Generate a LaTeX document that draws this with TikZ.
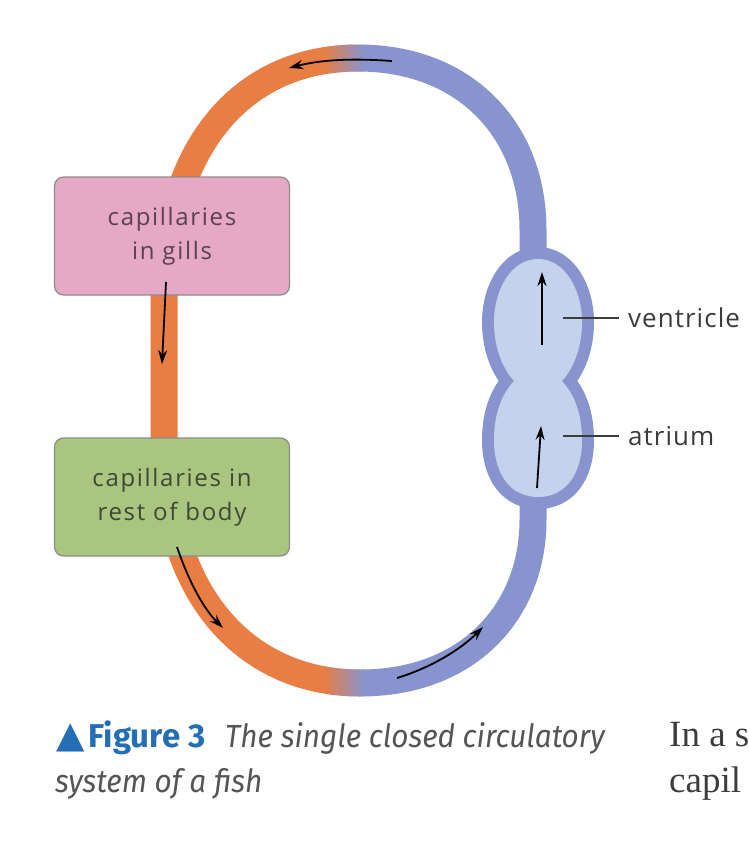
\documentclass[tikz,border=0pt]{standalone}
\usepackage{fontspec}
\setmainfont{Open Sans}
\newfontfamily\boxfont{Open Sans}[LetterSpace=7]
\newfontfamily\tagfont{Open Sans}[LetterSpace=4]
\newfontfamily\capfont{Fira Sans}[FakeStretch=0.93]
\newfontfamily\figfont{Fira Sans}
\newfontfamily\symfont{DejaVu Sans}
\newfontfamily\pagefont{Liberation Serif}
\usetikzlibrary{arrows.meta}

\definecolor{bandorange}{RGB}{233,126,69}
\definecolor{bandblue}{RGB}{135,148,206}
\definecolor{heartfill}{RGB}{196,210,236}
\definecolor{gillpink}{RGB}{229,168,197}
\definecolor{bodygreen}{RGB}{169,197,127}
\definecolor{boxedge}{RGB}{140,140,140}
\definecolor{labelgray}{RGB}{60,60,60}
\definecolor{capgray}{RGB}{85,85,85}
\definecolor{capblue}{RGB}{36,110,182}

\tikzset{
  band/.style={line width=27pt, line join=round},
  box/.style={draw=boxedge, line width=1.2pt, rounded corners=9pt,
    minimum width=235pt, minimum height=118pt, align=center,
    font=\boxfont\fontsize{24}{34}\selectfont},
  flow/.style={line width=1.8pt, -{Stealth[length=14pt,width=9pt]}},
  tag/.style={text=labelgray, anchor=west, inner sep=0pt,
    font=\tagfont\fontsize{26}{30}\selectfont},
}

% centre line of the vessel loop
\def\looppath{(358,58) .. controls (240,58) and (164,150) .. (164,300)
  -- (164,440) .. controls (164,600) and (250,683) .. (360,683)
  .. controls (470,683) and (533,610) .. (533,520)
  -- (533,230) .. controls (533,130) and (465,58) .. (358,58) -- cycle}

% outline of the heart (inner edge of its wall)
\def\heartpath{(538,259) .. controls (565,259) and (582,290) .. (582,322)
  .. controls (582,350) and (572,370) .. (562,381)
  .. controls (575,395) and (582,415) .. (582,440)
  .. controls (582,475) and (565,497) .. (538,497)
  .. controls (511,497) and (494,475) .. (494,440)
  .. controls (494,415) and (501,395) .. (514,381)
  .. controls (504,370) and (494,350) .. (494,322)
  .. controls (494,290) and (511,259) .. (538,259) -- cycle}

\begin{document}
\begin{tikzpicture}[x=1pt,y=-1pt]
\useasboundingbox (0,0) rectangle (748,862);

% vessel: oxygenated half, deoxygenated half, blend in between
\begin{scope}
  \clip (0,0) rectangle (326,862);
  \draw[band, bandorange] \looppath;
\end{scope}
\begin{scope}
  \clip (362.5,0) rectangle (748,862);
  \draw[band, bandblue] \looppath;
\end{scope}
\foreach \i in {0,...,18}{
  \pgfmathtruncatemacro\p{5*\i+5}
  \begin{scope}
    \clip (325+2*\i,0) rectangle (327.8+2*\i,862);
    \draw[band, draw=bandblue!\p!bandorange] \looppath;
  \end{scope}
}

% heart
\draw[bandblue, line width=24pt, line join=round] \heartpath;
\fill[heartfill] \heartpath;
\draw[flow] (542,345) -- (542,272);
\draw[flow] (537,488) -- (541,426);

% capillary beds
\node[box, fill=gillpink, text={rgb,255:red,90;green,66;blue,80}] (gills) at (172,236) {capillaries\\in gills};
\node[box, fill=bodygreen, text={rgb,255:red,60;green,74;blue,50}] (body) at (172,497) {capillaries in\\rest of body};

% direction of flow
\draw[flow] (392,61) .. controls (350,58) and (320,60) .. (289,68);
\draw[flow] (166,282) -- (162,364);
\draw[flow] (177,547) .. controls (190,585) and (205,610) .. (223,628);
\draw[flow] (397,678) .. controls (430,668) and (460,650) .. (483,627);

% labels
\node[tag] (vent) at (628,318) {ventricle};
\node[tag] (atr) at (628,436) {atrium};
\coordinate (ventin) at (563,318);
\coordinate (atrin) at (563,436);
\draw[labelgray, line width=1.2pt] (ventin) -- ([xshift=-9pt]vent.west);
\draw[labelgray, line width=1.2pt] (atrin) -- ([xshift=-9pt]atr.west);

% caption
\node[anchor=base west, inner sep=0pt, font=\capfont\fontsize{32}{36}\selectfont] (cap1) at (56,747)
  {\textcolor{capblue}{{\symfont\fontsize{37}{38}\selectfont ▲}\hspace{4pt}{\figfont\fontsize{33}{36}\selectfont\bfseries Figure 3}}\hspace{20pt}%
   \textcolor{capgray}{\itshape The single closed circulatory}};
\node[anchor=base west, inner sep=0pt, font=\capfont\fontsize{32}{36}\selectfont, text=capgray] (cap2) at (55,792)
  {\itshape system of a fish};
\node[anchor=base west, inner sep=0pt, font=\pagefont\fontsize{37}{40}\selectfont, text=labelgray] (page1) at (669,746) {In a s};
\node[anchor=base west, inner sep=0pt, font=\pagefont\fontsize{37}{40}\selectfont, text=labelgray] (page2) at (669,792) {capil};
\end{tikzpicture}
\end{document}
